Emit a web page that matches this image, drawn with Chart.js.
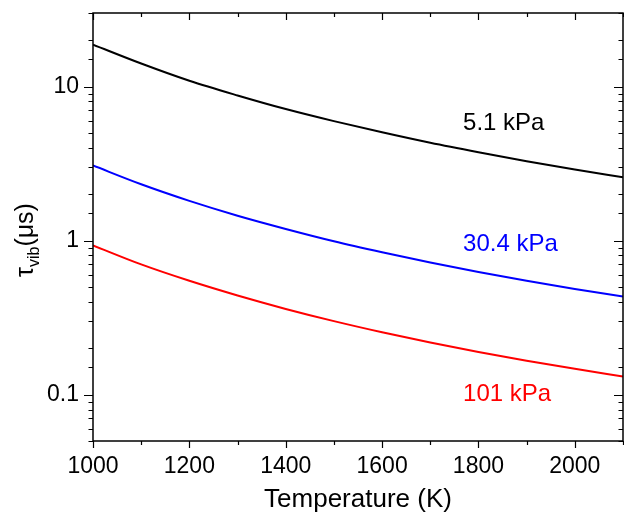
<!DOCTYPE html>
<html>
<head>
<meta charset="utf-8">
<script src="https://cdn.jsdelivr.net/npm/chart.js@4"></script>
<style>
  html, body { margin: 0; padding: 0; background: #fff; }
  canvas { display: block; }
</style>
</head>
<body>
<canvas id="tauChart" width="624" height="521"></canvas>
<script>
// temperature (K)
const temps = [1000, 1100, 1200, 1300, 1400, 1500, 1600, 1700, 1800, 1900, 2000, 2100];
// tau_vib (us)
const tau5 = [18.7, 14.1, 10.9, 8.75, 7.14, 5.96, 5.04, 4.31, 3.74, 3.27, 2.89, 2.58];
const tau30 = [3.07, 2.32, 1.81, 1.45, 1.19, 0.99, 0.84, 0.72, 0.625, 0.548, 0.485, 0.433];
const tau101 = [0.93, 0.70, 0.548, 0.44, 0.36, 0.30, 0.254, 0.218, 0.189, 0.166, 0.147, 0.131];

const seriesLabels = ['5.1 kPa', '30.4 kPa', '101 kPa'];
const seriesColors = ['#000000', '#0000ff', '#ff0000'];
// where the curve labels sit, in data units (T, tau)
const labelPos = [[1768, 5.75], [1768, 0.94], [1768, 0.1]];

const xLabelTicks = [1000, 1200, 1400, 1600, 1800, 2000];
const yLabelTicks = [0.1, 1, 10];

const FONT = '"Liberation Sans", Arial, sans-serif';

function makeSet(i, data) {
  return {
    label: seriesLabels[i],
    data: temps.map((t, k) => ({ x: t, y: data[k] })),
    borderColor: seriesColors[i],
    borderWidth: 2,
    pointRadius: 0,
    fill: false,
    cubicInterpolationMode: 'monotone'
  };
}

// frame, tick marks, titles and curve labels
const framePlugin = {
  id: 'frame',
  afterDraw(chart) {
    const ctx = chart.ctx;
    const a = chart.chartArea;
    const xs = chart.scales.x;
    const ys = chart.scales.y;
    ctx.save();
    ctx.strokeStyle = '#000';
    ctx.lineWidth = 1.5;
    ctx.strokeRect(a.left, a.top, a.right - a.left, a.bottom - a.top);

    ctx.lineWidth = 1.2;
    ctx.beginPath();
    xs.ticks.forEach(t => {
      const px = Math.round(xs.getPixelForValue(t.value)) + 0.5;
      const major = xLabelTicks.includes(t.value);
      const len = major ? 7 : 4;
      ctx.moveTo(px, a.bottom); ctx.lineTo(px, a.bottom + len);
      ctx.moveTo(px, a.top); ctx.lineTo(px, a.top + len);
    });
    ys.ticks.forEach(t => {
      if (t.value < ys.min || t.value > ys.max) return;
      const py = Math.round(ys.getPixelForValue(t.value)) + 0.5;
      const major = yLabelTicks.some(v => Math.abs(v - t.value) < 1e-9);
      const len = major ? 9 : 4.5;
      ctx.moveTo(a.left, py); ctx.lineTo(a.left - len, py);
      ctx.moveTo(a.right, py); ctx.lineTo(a.right - len, py);
    });
    ctx.stroke();

    // x title
    ctx.fillStyle = '#000';
    ctx.font = '26px ' + FONT;
    ctx.textAlign = 'center';
    ctx.textBaseline = 'middle';
    ctx.fillText('Temperature (K)', (a.left + a.right) / 2, 500);

    // y title with subscript
    ctx.translate(25, 240);
    ctx.rotate(-Math.PI / 2);
    const big = '25px ' + FONT;
    const small = '16px ' + FONT;
    ctx.font = big;
    const w1 = ctx.measureText('\u03c4').width;
    const w3 = ctx.measureText('(\u03bcs)').width;
    ctx.font = small;
    const w2 = ctx.measureText('vib').width;
    let x0 = -(w1 + w2 + w3) / 2;
    ctx.textAlign = 'left';
    ctx.textBaseline = 'alphabetic';
    ctx.font = big;
    ctx.fillText('\u03c4', x0, 8);
    ctx.font = small;
    ctx.fillText('vib', x0 + w1, 14);
    ctx.font = big;
    ctx.fillText('(\u03bcs)', x0 + w1 + w2, 8);
    ctx.setTransform(1, 0, 0, 1, 0, 0);

    // curve labels
    ctx.font = '24px ' + FONT;
    ctx.textAlign = 'left';
    ctx.textBaseline = 'middle';
    labelPos.forEach((p, i) => {
      ctx.fillStyle = seriesColors[i];
      ctx.fillText(seriesLabels[i], xs.getPixelForValue(p[0]), ys.getPixelForValue(p[1]));
    });
    ctx.restore();
  }
};

new Chart(document.getElementById('tauChart'), {
  type: 'line',
  data: {
    datasets: [makeSet(0, tau5), makeSet(1, tau30), makeSet(2, tau101)]
  },
  options: {
    responsive: false,
    animation: false,
    layout: { padding: { left: 0, right: 1, top: 13, bottom: 0 } },
    scales: {
      x: {
        type: 'linear',
        min: 1000,
        max: 2100,
        afterFit(scale) {
          scale.height = 80;
          scale.paddingLeft = 0;
          scale.paddingRight = 0;
        },
        border: { display: false },
        grid: { display: false, drawTicks: false },
        ticks: {
          stepSize: 100,
          padding: 12,
          color: '#000',
          font: { family: FONT, size: 23 },
          maxRotation: 0,
          autoSkip: false,
          callback: v => xLabelTicks.includes(v) ? String(v) : ''
        }
      },
      y: {
        type: 'logarithmic',
        min: 0.05,
        max: 30,
        afterFit(scale) {
          scale.width = 93;
          scale.paddingTop = 0;
          scale.paddingBottom = 0;
        },
        border: { display: false },
        grid: { display: false, drawTicks: false },
        ticks: {
          padding: 14,
          color: '#000',
          font: { family: FONT, size: 23 },
          autoSkip: false,
          callback: v => yLabelTicks.some(t => Math.abs(t - v) < 1e-9) ? String(v) : ''
        }
      }
    },
    plugins: {
      legend: { display: false },
      tooltip: { enabled: false }
    }
  },
  plugins: [framePlugin]
});
</script>
</body>
</html>
